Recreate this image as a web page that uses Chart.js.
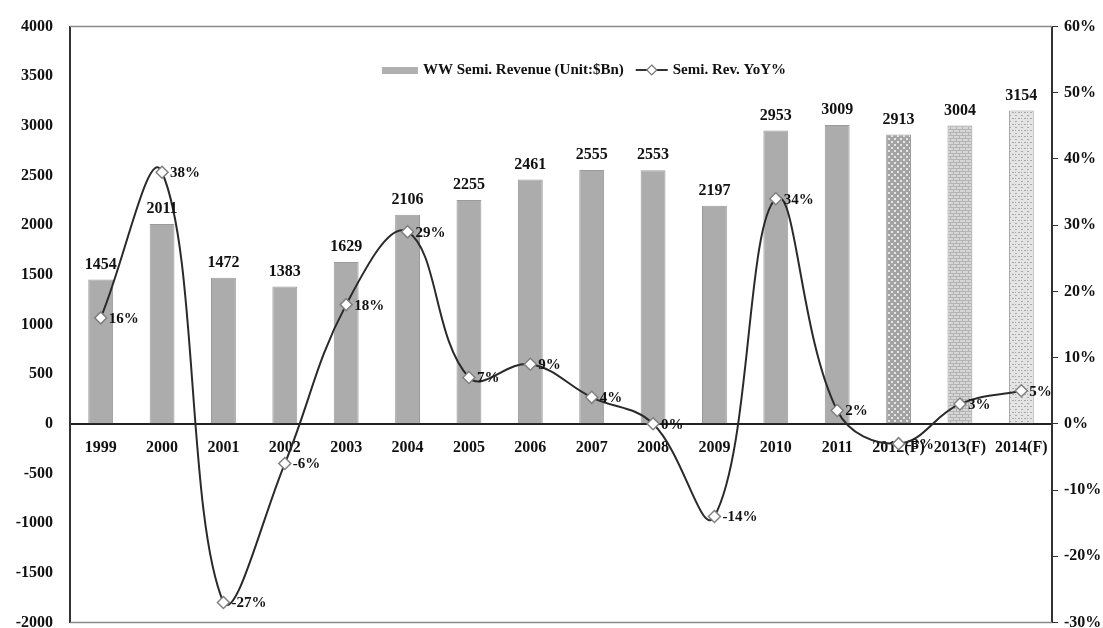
<!DOCTYPE html>
<html>
<head>
<meta charset="utf-8">
<script src="https://cdn.jsdelivr.net/npm/chart.js@4.4.1/dist/chart.umd.min.js"></script>
<style>
  html, body { margin: 0; padding: 0; background: #fff; overflow: hidden; }
  #wrap { width: 1103px; height: 628px; overflow: hidden; }
</style>
</head>
<body>
<div id="wrap"><canvas id="chart" width="1103" height="649"></canvas></div>
<script>
const years = ['1999', '2000', '2001', '2002', '2003', '2004', '2005', '2006', '2007', '2008',
               '2009', '2010', '2011', '2012(F)', '2013(F)', '2014(F)'];
const revenue = [1454, 2011, 1472, 1383, 1629, 2106, 2255, 2461, 2555, 2553, 2197, 2953, 3009, 2913, 3004, 3154];
const yoy = [16, 38, -27, -6, 18, 29, 7, 9, 4, 0, -14, 34, 2, -3, 3, 5];

const revenueLabel = 'WW Semi. Revenue (Unit:$Bn)';
const yoyLabel = 'Semi. Rev. YoY%';

const serif = '"Liberation Serif", "Times New Roman", serif';
Chart.defaults.font.family = serif;
Chart.defaults.font.weight = 'bold';
Chart.defaults.color = '#111';

// forecast bars use hatched fills
function makePattern(base, ink, kind) {
    const c = document.createElement('canvas');
    c.width = 6; c.height = 6;
    const g = c.getContext('2d');
    g.fillStyle = base;
    g.fillRect(0, 0, 6, 6);
    g.fillStyle = ink;
    if (kind === 'check') {
        g.fillRect(0, 0, 2, 2);
        g.fillRect(3, 3, 2, 2);
    } else if (kind === 'brick') {
        g.fillRect(0, 0, 6, 1);
        g.fillRect(0, 3, 6, 1);
        g.fillRect(2, 0, 1, 3);
        g.fillRect(5, 3, 1, 3);
    } else {
        g.fillRect(1, 1, 2, 1);
        g.fillRect(4, 4, 2, 1);
        g.fillRect(1, 4, 1, 1);
    }
    return g.createPattern(c, 'repeat');
}

const forecastFills = [
    makePattern('#a3a3a3', '#e6e6e6', 'check'),
    makePattern('#d6d6d6', '#b4b4b4', 'brick'),
    makePattern('#e4e4e4', '#a9a9a9', 'dots')
];
const barFills = revenue.map((v, i) => i < 13 ? '#acacac' : forecastFills[i - 13]);

const valueLabels = {
    id: 'valueLabels',
    afterDatasetsDraw(chart) {
        const ctx = chart.ctx;
        ctx.save();
        ctx.fillStyle = '#111';
        ctx.font = 'bold 16px ' + serif;
        ctx.textAlign = 'center';
        ctx.textBaseline = 'bottom';
        chart.getDatasetMeta(0).data.forEach((bar, i) => {
            ctx.fillText(String(revenue[i]), bar.x, bar.y - 7);
        });
        ctx.font = 'bold 15px ' + serif;
        ctx.textAlign = 'left';
        ctx.textBaseline = 'middle';
        chart.getDatasetMeta(1).data.forEach((pt, i) => {
            ctx.fillText(yoy[i] + '%', pt.x + 8, pt.y + 1);
        });
        ctx.restore();
    }
};

const frameAndLegend = {
    id: 'frameAndLegend',
    beforeDatasetsDraw(chart) {
        const { ctx, chartArea: a } = chart;
        ctx.save();
        ctx.strokeStyle = '#8a8a8a';
        ctx.lineWidth = 1.5;
        ctx.beginPath();
        ctx.moveTo(a.left, a.top); ctx.lineTo(a.right, a.top);
        ctx.moveTo(a.left, a.bottom); ctx.lineTo(a.right, a.bottom);
        ctx.stroke();
        ctx.restore();
    },
    afterDraw(chart) {
        const ctx = chart.ctx;
        ctx.save();
        ctx.font = 'bold 15px ' + serif;
        ctx.textBaseline = 'middle';
        ctx.fillStyle = '#111';
        const w1 = ctx.measureText(revenueLabel).width;
        const w2 = ctx.measureText(yoyLabel).width;
        const total = 36 + 5 + w1 + 12 + 32 + 5 + w2;
        let x = 584 - total / 2;
        const y = 70;
        ctx.fillStyle = '#b0b0b0';
        ctx.fillRect(x, y - 3, 36, 7);
        ctx.fillStyle = '#111';
        x += 41;
        ctx.fillText(revenueLabel, x, y);
        x += w1 + 12;
        ctx.strokeStyle = '#333';
        ctx.lineWidth = 2;
        ctx.beginPath(); ctx.moveTo(x, y); ctx.lineTo(x + 32, y); ctx.stroke();
        ctx.fillStyle = '#fff';
        ctx.strokeStyle = '#777';
        ctx.lineWidth = 1.2;
        ctx.beginPath();
        ctx.moveTo(x + 16, y - 5); ctx.lineTo(x + 21, y); ctx.lineTo(x + 16, y + 5); ctx.lineTo(x + 11, y);
        ctx.closePath(); ctx.fill(); ctx.stroke();
        ctx.fillStyle = '#111';
        ctx.fillText(yoyLabel, x + 37, y);
        ctx.restore();
    }
};

new Chart(document.getElementById('chart'), {
    type: 'bar',
    data: {
        labels: years,
        datasets: [
            {
                type: 'bar',
                label: revenueLabel,
                data: revenue,
                yAxisID: 'y',
                backgroundColor: barFills,
                borderColor: '#9a9a9a',
                borderWidth: 1,
                barPercentage: 0.9,
                categoryPercentage: 0.45,
                order: 1
            },
            {
                type: 'line',
                label: yoyLabel,
                data: yoy,
                yAxisID: 'y1',
                borderColor: '#2a2a2a',
                borderWidth: 2,
                tension: 0.4,
                pointStyle: 'rectRot',
                pointRadius: 6,
                pointBackgroundColor: '#fff',
                pointBorderColor: '#808080',
                pointBorderWidth: 1.5,
                order: 0
            }
        ]
    },
    options: {
        responsive: false,
        animation: false,
        devicePixelRatio: 1,
        layout: { padding: { top: 25, bottom: 6, left: 0, right: 0 } },
        plugins: {
            legend: { display: false },
            tooltip: { enabled: false }
        },
        scales: {
            x: {
                position: { y: 0 },
                afterFit(scale) { scale.height = 0; },
                grid: { display: true, drawOnChartArea: false, drawTicks: false },
                border: { color: '#222', width: 2 },
                ticks: { autoSkip: false, maxRotation: 0, padding: 14, color: '#111', font: { size: 16, weight: 'bold' } }
            },
            y: {
                position: 'left',
                min: -2000,
                max: 4000,
                afterFit(scale) { scale.width = 70; },
                grid: { display: true, drawOnChartArea: false, drawTicks: false },
                border: { color: '#333', width: 2 },
                ticks: {
                    stepSize: 500, padding: 17, color: '#111', font: { size: 16, weight: 'bold' },
                    callback: v => String(v)
                }
            },
            y1: {
                position: 'right',
                min: -30,
                max: 60,
                afterFit(scale) { scale.width = 51; },
                grid: { display: true, drawOnChartArea: false, drawTicks: true, tickLength: 6, color: '#333' },
                border: { color: '#333', width: 2 },
                ticks: {
                    stepSize: 10, padding: 6, color: '#111', font: { size: 16, weight: 'bold' },
                    callback: v => v + '%'
                }
            }
        }
    },
    plugins: [valueLabels, frameAndLegend]
});
</script>
</body>
</html>
